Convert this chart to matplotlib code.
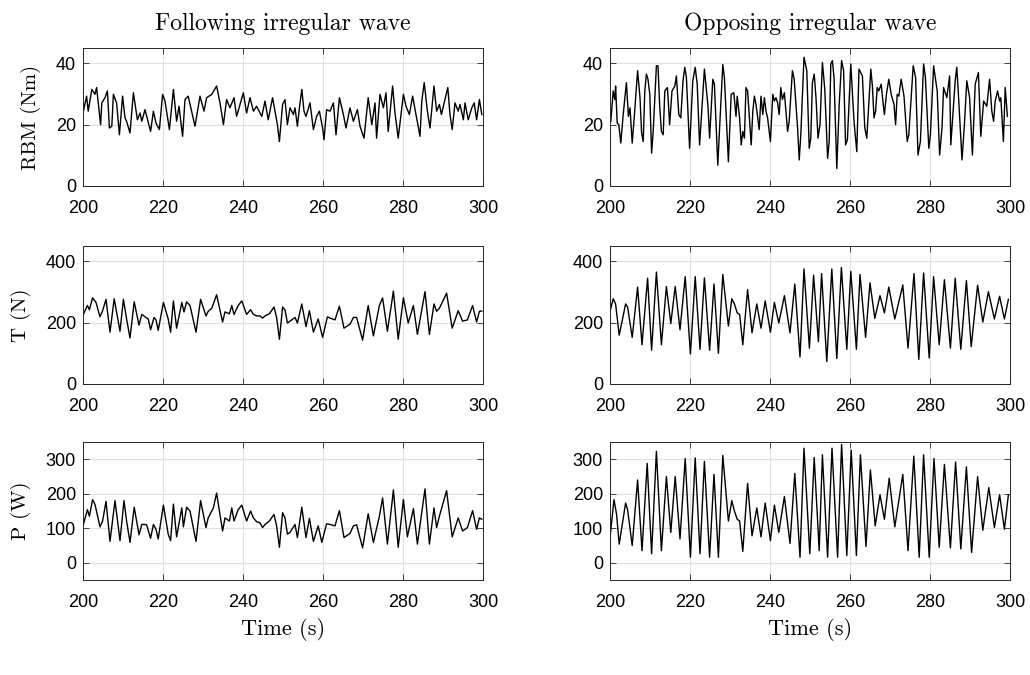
import matplotlib
matplotlib.use("Agg")
import matplotlib.pyplot as plt

# ---------------- data ----------------
t_rbm_f = [200.1, 200.9, 201.3, 202.2, 203.0, 203.4, 204.4, 204.7, 205.5, 206.1,
           206.6, 207.2, 207.6, 208.4, 209.1, 209.9, 210.5, 210.9, 211.75, 212.6,
           213.6, 214.25, 214.7, 215.5, 216.9, 217.6, 218.25, 219.1, 219.9, 220.5,
           221.6, 222.6, 223.4, 224.0, 224.9, 225.5, 226.3, 228.0, 229.25, 230.25,
           230.9, 232.2, 233.4, 234.25, 235.1, 235.9, 236.75, 237.75, 238.4, 240.1,
           240.9, 241.75, 242.6, 243.4, 244.7, 245.5, 246.3, 247.4, 248.6, 249.1,
           249.9, 250.5, 251.1, 251.75, 252.6, 253.0, 253.6, 254.1, 254.7, 255.25,
           255.75, 256.75, 257.6, 258.4, 259.1, 259.9, 260.25, 260.9, 261.75, 262.6,
           263.25, 264.1, 265.1, 265.75, 266.75, 267.6, 268.6, 269.25, 270.25, 271.3,
           272.2, 273.0, 273.4, 274.25, 275.1, 275.75, 276.3, 277.4, 278.0, 278.8,
           280.1, 280.75, 281.6, 282.4, 284.25, 284.7, 285.3, 286.1, 286.75, 287.75,
           288.4, 289.1, 289.6, 291.2, 291.75, 292.3, 293.0, 293.8, 294.25, 295.1,
           295.5, 296.3, 297.2, 297.8, 298.4, 299.1, 299.7]
rbm_f = [24.4, 29.3, 24.4, 31.5, 29.9, 32.1, 20.0, 27.1, 28.8, 31.0,
         18.9, 19.5, 29.9, 27.1, 16.7, 29.3, 22.2, 21.1, 17.3, 30.4,
         21.6, 23.8, 21.1, 24.9, 17.8, 24.4, 20.5, 18.4, 29.9, 27.7,
         18.4, 31.5, 21.1, 26.0, 16.2, 28.2, 29.3, 19.5, 29.3, 24.4,
         28.8, 29.9, 32.6, 27.1, 20.0, 28.2, 25.5, 28.8, 22.7, 30.4,
         23.8, 28.8, 24.4, 26.0, 22.7, 27.7, 21.6, 28.8, 20.0, 14.5,
         26.6, 28.2, 20.0, 25.5, 23.3, 25.5, 19.5, 25.5, 31.5, 24.4,
         22.7, 27.1, 18.4, 22.7, 24.4, 18.9, 15.1, 24.9, 24.4, 27.1,
         16.7, 28.8, 23.3, 18.9, 25.5, 21.1, 24.9, 19.5, 15.6, 28.8,
         20.0, 27.1, 15.6, 29.9, 25.5, 30.4, 17.8, 32.6, 23.8, 15.6,
         29.9, 26.0, 23.3, 29.3, 16.2, 27.7, 33.7, 24.4, 18.9, 32.6,
         24.4, 26.6, 23.3, 32.1, 23.3, 18.4, 27.1, 24.4, 26.6, 21.6,
         27.1, 21.6, 25.5, 27.1, 21.6, 28.2, 23.3]

t_rbm_o = [200.2, 200.8, 201.2, 201.4, 201.8, 202.2, 202.7, 203.3, 204.1, 204.6,
           205.0, 205.55, 206.05, 206.9, 207.5, 207.9, 208.3, 208.7, 209.1, 209.5,
           209.95, 210.4, 210.8, 211.6, 212.0, 212.4, 212.85, 213.3, 213.7, 214.35,
           214.5, 214.9, 215.5, 216.2, 216.6, 217.2, 217.7, 218.25, 218.7, 219.1,
           219.9, 220.7, 221.3, 221.8, 222.4, 223.6, 224.5, 224.9, 225.7, 226.1,
           226.95, 227.4, 228.2, 228.6, 229.6, 230.3, 230.95, 231.5, 231.8, 232.4,
           232.8, 233.2, 233.6, 234.0, 234.4, 235.3, 235.7, 236.1, 236.5, 237.3,
           237.75, 238.2, 238.6, 239.0, 239.4, 240.1, 240.7, 241.1, 241.5, 241.9,
           242.3, 242.7, 243.1, 243.6, 244.4, 244.8, 245.6, 246.05, 246.9, 247.3,
           247.7, 248.5, 249.2, 249.8, 250.2, 250.6, 251.05, 251.5, 252.0, 252.5,
           253.1, 253.7, 254.4, 254.8, 255.2, 255.6, 256.0, 256.7, 257.3, 257.9,
           258.4, 258.9, 259.35, 260.2, 261.0, 261.7, 262.25, 263.1, 263.7, 264.2,
           265.2, 265.6, 266.0, 266.4, 266.8, 267.2, 267.8, 268.3, 268.6, 269.1,
           269.7, 270.3, 271.0, 271.4, 271.8, 272.2, 272.8, 273.5, 274.3, 274.7,
           275.8, 276.4, 277.0, 277.6, 278.4, 278.85, 279.7, 280.1, 280.9, 281.8,
           282.4, 283.0, 283.4, 284.2, 284.9, 285.2, 285.9, 286.3, 286.7, 287.1,
           288.0, 288.6, 289.2, 289.9, 290.6, 291.3, 292.1, 292.7, 293.4, 294.2,
           294.9, 295.45, 295.9, 296.3, 296.9, 297.4, 297.7, 298.35, 298.8, 299.35]
rbm_o = [21.1, 31.0, 28.2, 32.6, 20.5, 20.0, 14.0, 23.3, 33.7, 22.7,
         25.5, 14.0, 22.2, 37.6, 28.8, 17.3, 14.5, 31.0, 36.5, 34.8,
         29.9, 10.7, 17.8, 39.2, 39.2, 26.6, 17.8, 16.7, 31.0, 32.1,
         29.3, 20.0, 31.0, 32.6, 35.9, 23.3, 22.2, 34.3, 38.7, 35.4,
         12.3, 34.3, 38.7, 33.2, 13.4, 38.1, 26.0, 15.6, 34.8, 33.2,
         6.8, 18.9, 39.6, 35.4, 7.9, 29.9, 30.4, 22.7, 29.3, 22.2,
         13.4, 17.8, 15.6, 32.1, 31.0, 13.4, 24.4, 29.3, 26.6, 18.4,
         29.3, 23.3, 28.8, 24.4, 22.2, 14.5, 29.9, 27.7, 28.8, 27.1,
         23.3, 32.1, 28.2, 30.4, 17.8, 21.1, 37.6, 34.8, 18.9, 8.5,
         16.7, 42.0, 37.6, 12.3, 15.6, 33.7, 36.5, 28.8, 15.6, 20.0,
         40.3, 31.5, 9.0, 14.5, 39.8, 40.9, 35.4, 5.7, 26.6, 40.9,
         37.6, 13.4, 15.1, 39.8, 21.1, 11.2, 38.1, 35.9, 18.9, 15.6,
         38.1, 32.6, 22.2, 24.4, 32.1, 31.0, 33.2, 26.6, 23.3, 29.9,
         34.8, 29.9, 26.6, 20.0, 29.9, 29.3, 34.8, 29.3, 14.5, 16.7,
         39.2, 35.4, 10.1, 14.5, 39.8, 35.4, 12.3, 16.7, 39.2, 31.0,
         10.1, 18.9, 32.1, 28.8, 35.9, 13.4, 26.6, 34.3, 38.7, 29.9,
         8.5, 20.0, 34.3, 28.8, 10.1, 33.2, 37.0, 16.2, 27.7, 26.0,
         34.8, 24.4, 21.1, 27.7, 31.0, 27.7, 28.8, 14.5, 32.1, 22.7]

t_T_f = [200.1, 201.1, 201.6, 202.4, 203.25, 204.25, 204.9, 205.75, 206.75, 207.8,
         209.25, 210.1, 210.9, 211.75, 212.8, 214.0, 214.7, 215.5, 216.3, 216.9,
         217.75, 218.25, 218.8, 220.1, 221.3, 221.9, 222.6, 223.4, 224.7, 225.25,
         225.9, 226.75, 228.25, 229.4, 230.75, 231.3, 232.2, 233.4, 234.9, 235.5,
         236.6, 237.2, 237.75, 238.8, 239.7, 240.9, 241.9, 242.6, 243.4, 244.25,
         244.9, 245.5, 246.6, 247.75, 248.4, 249.1,
         249.9, 250.5, 251.1, 251.75, 253.0, 253.6, 254.7, 255.75, 256.6, 257.6,
         258.8, 259.9, 261.1, 261.75, 263.0, 264.1, 265.25, 266.75, 267.6, 268.4,
         269.9, 271.3, 272.6, 274.1, 274.9, 276.1, 277.6, 278.8, 280.1, 281.3,
         282.6, 283.6, 285.5, 286.6, 287.75, 288.4, 289.1, 290.9, 292.3, 293.8,
         294.9, 296.1, 297.4, 298.4, 299.1, 299.7]
T_f = [227, 256, 242, 281, 266, 219, 239, 276, 169, 278,
       172, 276, 212, 150, 268, 192, 227, 219, 212, 177,
       217, 209, 175, 266, 212, 169, 271, 182, 266, 235,
       268, 256, 169, 276, 222, 237, 247, 291, 202, 235,
       229, 256, 227, 256, 271, 227, 242, 227, 222, 222,
       215, 222, 229, 251, 217, 146,
       251, 242, 199, 205, 217, 199, 261, 187, 239, 169,
       212, 152, 219, 215, 209, 254, 182, 195, 217, 217,
       143, 256, 157, 256, 281, 172, 303, 146, 281, 199,
       256, 162, 301, 162, 261, 237, 247, 296, 182, 239,
       205, 209, 256, 202, 237, 238]

t_T_o = [200.0, 200.8, 201.4, 202.3, 203.9, 204.4, 205.55, 206.9, 208.0, 209.4,
         210.4, 211.6, 212.85, 214.1, 215.2, 216.3, 217.5, 218.8, 220.1, 221.3,
         222.5, 223.6, 224.9, 226.0, 227.1, 228.2, 229.6, 230.45, 231.1, 231.8,
         232.4, 233.2, 234.4, 235.5, 236.7, 237.75, 238.8, 240.1, 241.1, 242.2,
         243.6, 245.0, 246.2, 247.5, 248.5, 249.85, 250.9, 252.1, 252.9, 254.2,
         255.45, 256.7, 257.85, 259.2, 260.2, 261.6, 262.5, 263.9, 265.0, 266.2,
         267.5, 268.6, 269.7, 271.2, 273.2, 274.5, 276.0, 277.2, 278.4, 279.8,
         280.9, 282.3, 283.6, 285.1, 286.3, 287.7, 289.1, 290.3, 291.9, 293.2,
         294.6, 296.1, 297.4, 298.6, 299.6]
T_o = [237, 278, 261, 159, 261, 251, 152, 316, 128, 345,
       110, 365, 128, 318, 197, 318, 177, 350, 98, 350,
       113, 346, 110, 326, 100, 357, 189, 278, 261, 232,
       227, 128, 308, 167, 261, 182, 271, 169, 266, 199,
       288, 167, 326, 88, 375, 117, 355, 138, 360, 73,
       375, 83, 380, 113, 367, 113, 357, 152, 330, 214,
       288, 232, 316, 212, 323, 117, 360, 80, 362, 85,
       350, 128, 340, 117, 345, 113, 337, 122, 322, 202,
       301, 212, 286, 212, 276]

t_P_f = [200.1, 201.1, 201.6, 202.4, 203.0, 204.25, 204.9, 205.75, 206.75, 208.0,
         209.25, 210.25, 210.9, 211.75, 212.8, 214.0, 214.7, 215.5, 215.9, 216.9,
         217.6, 218.25, 218.8, 220.1, 221.3, 221.9, 222.6, 223.4, 224.7, 225.1,
         225.9, 226.75, 228.25, 229.4, 230.75, 231.3, 232.6, 233.4, 234.9, 235.5,
         236.6, 237.2, 237.75, 238.8, 239.7, 240.9, 241.9, 242.6, 243.4, 244.25,
         244.9, 245.5, 246.6, 247.75, 248.4, 249.1,
         249.9, 250.5, 251.1, 251.75, 253.0, 253.6, 254.7, 255.75, 256.6, 257.6,
         258.8, 259.7, 260.9, 261.75, 263.0, 264.1, 265.25, 266.75, 267.6, 268.4,
         269.9, 271.3, 272.6, 274.1, 274.9, 276.1, 277.6, 278.8, 280.1, 281.1,
         282.6, 283.6, 285.5, 286.6, 287.75, 288.4, 289.1, 290.9, 292.3, 293.8,
         294.9, 296.1, 297.4, 298.4, 299.1, 299.7]
P_f = [111, 154, 135, 183, 169, 104, 121, 178, 62, 180,
       64, 180, 121, 59, 161, 81, 111, 111, 110, 71,
       111, 97, 69, 167, 83, 64, 170, 75, 159, 104,
       161, 150, 62, 180, 102, 130, 159, 202, 92, 130,
       121, 159, 121, 154, 167, 121, 150, 130, 119, 116,
       102, 111, 121, 140, 107, 45,
       145, 130, 83, 88, 111, 73, 161, 73, 129, 62,
       107, 59, 113, 111, 107, 151, 73, 85, 107, 110,
       43, 142, 59, 135, 188, 54, 211, 45, 183, 75,
       157, 54, 214, 54, 159, 102, 135, 209, 75, 130,
       92, 102, 151, 97, 130, 126]

t_P_o = [200.0, 201.0, 201.65, 202.3, 203.9, 204.4, 205.55, 206.9, 208.0, 209.3,
         210.4, 211.6, 212.85, 214.1, 215.2, 216.3, 217.5, 218.8, 220.1, 221.3,
         222.5, 223.6, 224.9, 226.0, 227.1, 228.2, 229.6, 230.45, 231.1, 231.8,
         232.4, 233.2, 234.4, 235.5, 236.7, 237.75, 238.8, 240.1, 241.1, 242.2,
         243.6, 245.0, 246.2, 247.5, 248.5, 249.95, 251.05, 252.3, 253.1, 254.4,
         255.5, 256.9, 257.9, 259.2, 260.3, 261.6, 262.6, 264.0, 265.1, 266.3,
         267.5, 268.6, 269.8, 271.2, 273.2, 274.5, 275.95, 277.3, 278.4, 279.8,
         281.0, 282.3, 283.6, 285.1, 286.4, 287.7, 289.1, 290.4, 291.9, 293.2,
         294.7, 296.1, 297.4, 298.6, 299.6]
P_o = [73, 183, 140, 54, 173, 154, 50, 240, 35, 288,
       26, 323, 35, 250, 88, 250, 69, 302, 16, 304,
       26, 294, 16, 256, 16, 311, 121, 180, 150, 126,
       121, 33, 230, 78, 159, 75, 173, 64, 167, 88,
       192, 56, 259, 16, 332, 26, 305, 35, 313, 16,
       332, 16, 343, 21, 326, 21, 313, 47, 269, 107,
       197, 126, 245, 104, 256, 35, 309, 16, 313, 16,
       302, 45, 285, 43, 292, 40, 278, 30, 250, 94,
       218, 102, 197, 97, 197]

titles = ["Following irregular wave", "Opposing irregular wave"]
ylabels = ["RBM (Nm)", "T (N)", "P (W)"]
xlabel = "Time (s)"
xticks = [200, 220, 240, 260, 280, 300]
yticks = [[0, 20, 40], [0, 200, 400], [0, 100, 200, 300]]
ylims = [(0, 45), (0, 450), (-50, 350)]

series = [[(t_rbm_f, rbm_f), (t_rbm_o, rbm_o)],
          [(t_T_f, T_f), (t_T_o, T_o)],
          [(t_P_f, P_f), (t_P_o, P_o)]]

# ---------------- figure ----------------
W, H = 1030, 675
fig = plt.figure(figsize=(W / 100, H / 100), dpi=100)
lefts = [83, 610]
bottoms = [186, 384, 580]
aw, ah = 400, 138
serif = "cmr10"
tick_font = "Liberation Sans"
axcol = "#262626"

for r in range(3):
    for c in range(2):
        ax = fig.add_axes([lefts[c] / W, 1 - bottoms[r] / H, aw / W, ah / H])
        t, v = series[r][c]
        ax.plot(t, v, color="black", lw=1.0)
        ax.set_xlim(200, 300)
        ax.set_ylim(*ylims[r])
        ax.set_xticks(xticks)
        ax.set_yticks(yticks[r])
        ax.grid(True, color="#e0e0e0", lw=0.8)
        ax.set_axisbelow(True)
        ax.tick_params(direction="in", top=True, right=True, length=4,
                       width=0.6, color=axcol, labelsize=13, labelcolor="black")
        ax.tick_params(axis="x", pad=10)
        ax.tick_params(axis="y", pad=5)
        for lab in ax.get_xticklabels() + ax.get_yticklabels():
            lab.set_fontfamily(tick_font)
        for s in ax.spines.values():
            s.set_color(axcol)
            s.set_linewidth(0.7)
        if r == 0:
            ax.set_title(titles[c], fontfamily=serif, fontsize=17, pad=13)
        if c == 0:
            ax.set_ylabel(ylabels[r], fontfamily=serif, fontsize=15, labelpad=11)
        if r == 2:
            ax.set_xlabel(xlabel, fontfamily=serif, fontsize=16, labelpad=5)

fig.savefig("out.png", dpi=100)
